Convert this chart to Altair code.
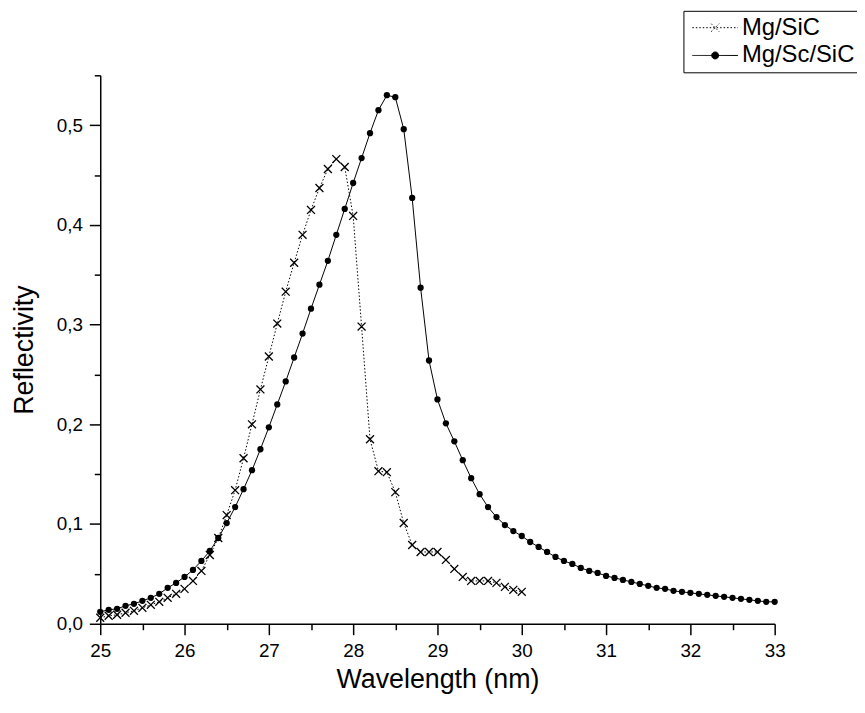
import altair as alt
import pandas as pd

FONT = "Liberation Sans"

# ---- data ----
mgsic_wl = [25.0, 25.1, 25.2, 25.3, 25.4, 25.5, 25.6, 25.7, 25.8, 25.9,
            26.0, 26.1, 26.2, 26.3, 26.4, 26.5, 26.6, 26.7, 26.8, 26.9,
            27.0, 27.1, 27.2, 27.3, 27.4, 27.5, 27.6, 27.7, 27.8, 27.9,
            28.0, 28.1, 28.2, 28.3, 28.4, 28.5, 28.6, 28.7, 28.8, 28.9,
            29.0, 29.1, 29.2, 29.3, 29.4, 29.5, 29.6, 29.7, 29.8, 29.9, 30.0]
mgsic_r = [0.006, 0.008, 0.009, 0.011, 0.013, 0.016, 0.019, 0.022, 0.026, 0.030,
           0.035, 0.043, 0.053, 0.069, 0.086, 0.109, 0.134, 0.166, 0.200, 0.235,
           0.268, 0.301, 0.333, 0.362, 0.390, 0.415, 0.437, 0.456, 0.466, 0.458,
           0.409, 0.298, 0.185, 0.153, 0.152, 0.132, 0.101, 0.079, 0.072, 0.072,
           0.072, 0.064, 0.055, 0.047, 0.043, 0.043, 0.043, 0.041, 0.037, 0.034, 0.032]

mgscsic_wl = [25.0, 25.1, 25.2, 25.3, 25.4, 25.5, 25.6, 25.7, 25.8, 25.9,
              26.0, 26.1, 26.2, 26.3, 26.4, 26.5, 26.6, 26.7, 26.8, 26.9,
              27.0, 27.1, 27.2, 27.3, 27.4, 27.5, 27.6, 27.7, 27.8, 27.9,
              28.0, 28.1, 28.2, 28.3, 28.4, 28.5, 28.6, 28.7, 28.8, 28.9,
              29.0, 29.1, 29.2, 29.3, 29.4, 29.5, 29.6, 29.7, 29.8, 29.9,
              30.0, 30.1, 30.2, 30.3, 30.4, 30.5, 30.6, 30.7, 30.8, 30.9,
              31.0, 31.1, 31.2, 31.3, 31.4, 31.5, 31.6, 31.7, 31.8, 31.9,
              32.0, 32.1, 32.2, 32.3, 32.4, 32.5, 32.6, 32.7, 32.8, 32.9, 33.0]
mgscsic_r = [0.012, 0.014, 0.015, 0.018, 0.020, 0.023, 0.026, 0.030, 0.036, 0.041,
             0.047, 0.054, 0.063, 0.073, 0.086, 0.101, 0.117, 0.135, 0.154, 0.175,
             0.197, 0.220, 0.243, 0.267, 0.291, 0.316, 0.340, 0.364, 0.390, 0.416,
             0.442, 0.467, 0.492, 0.515, 0.530, 0.528, 0.496, 0.427, 0.337, 0.264,
             0.225, 0.201, 0.183, 0.164, 0.146, 0.130, 0.117, 0.107, 0.099, 0.093,
             0.088, 0.082, 0.077, 0.072, 0.067, 0.063, 0.060, 0.056, 0.053, 0.051,
             0.048, 0.046, 0.044, 0.042, 0.040, 0.038, 0.036, 0.035, 0.033, 0.032,
             0.031, 0.030, 0.029, 0.028, 0.027, 0.026, 0.025, 0.024, 0.023, 0.022, 0.022]

series_names = ["Mg/SiC", "Mg/Sc/SiC"]
x_ticks = [25, 26, 27, 28, 29, 30, 31, 32, 33]
x_minor = [25.5, 26.5, 27.5, 28.5, 29.5, 30.5, 31.5, 32.5]
y_ticks = [0.0, 0.1, 0.2, 0.3, 0.4, 0.5]
y_minor = [0.05, 0.15, 0.25, 0.35, 0.45, 0.55]

df = pd.concat([
    pd.DataFrame({"wl": mgsic_wl, "r": mgsic_r, "series": series_names[0]}),
    pd.DataFrame({"wl": mgscsic_wl, "r": mgscsic_r, "series": series_names[1]}),
], ignore_index=True)

xscale = alt.Scale(domain=[25, 33], nice=False, zero=False)
yscale = alt.Scale(domain=[0, 0.55], nice=False)

XPATH = "M-1,-1L1,1M-1,1L1,-1"
# legend symbols: line + marker (unit half-size = 8 px with symbolSize 256)
LEG_X = "M-1,0L4.75,0M1.375,-0.5L2.375,0.5M1.375,0.5L2.375,-0.5"
LEG_O = ("M-1,0L4.75,0M1.435,0A0.44,0.44 0 1,0 2.315,0"
         "A0.44,0.44 0 1,0 1.435,0Z")

base = alt.Chart(df)
s0 = base.transform_filter(alt.datum.series == series_names[0])
s1 = base.transform_filter(alt.datum.series == series_names[1])

x_main = alt.X("wl:Q", scale=xscale,
               axis=alt.Axis(values=x_ticks, title="Wavelength (nm)", orient="bottom",
                             format="d", tickSize=11, labelPadding=7, titlePadding=6,
                             labelFontSize=19, titleFontSize=27, grid=False,
                             labelFlush=False))
y_main = alt.Y("r:Q", scale=yscale,
               axis=alt.Axis(values=y_ticks, title="Reflectivity", orient="left",
                             labelExpr="replace(format(datum.value, '.1f'), '.', ',')",
                             tickSize=11, labelPadding=7, titlePadding=18,
                             labelFontSize=19, titleFontSize=27, grid=False,
                             labelFlush=False))
x_minor_ax = alt.X("wl:Q", scale=xscale,
                   axis=alt.Axis(values=x_minor, labels=False, title=None, domain=False,
                                 tickSize=6, orient="bottom", grid=False))
y_minor_ax = alt.Y("r:Q", scale=yscale,
                   axis=alt.Axis(values=y_minor, labels=False, title=None, domain=False,
                                 tickSize=6, orient="left", grid=False))
x_none = alt.X("wl:Q", scale=xscale, axis=None)
y_none = alt.Y("r:Q", scale=yscale, axis=None)

line0 = s0.mark_line(color="black", strokeWidth=1, strokeDash=[1.5, 2]).encode(
    x=x_main, y=y_main)
line1 = s1.mark_line(color="black", strokeWidth=1).encode(
    x=x_minor_ax, y=y_minor_ax)

xs = s0.mark_point(shape=XPATH, size=64, filled=False, color="black",
                   strokeWidth=1.3, opacity=1).encode(x=x_none, y=y_none)
dots = s1.mark_circle(size=40, color="black", opacity=1).encode(x=x_none, y=y_none)


def legend_box():
    return alt.Legend(
        title=None, orient="none", legendX=588, legendY=-65,
        strokeColor="black", fillColor="white", padding=5,
        labelFont=FONT, labelFontSize=24, labelColor="black",
        symbolSize=256, symbolStrokeWidth=1, symbolStrokeColor="black",
        labelOffset=30, rowPadding=4)


# legend-only layer (no rows drawn; entries come from the explicit scale domains)
leg = base.transform_filter("false").mark_point(
    strokeWidth=1, opacity=1
).encode(
    x=x_none, y=y_none,
    shape=alt.Shape("series:N", scale=alt.Scale(domain=series_names, range=[LEG_X, LEG_O]),
                    legend=legend_box()),
    fill=alt.Fill("series:N", scale=alt.Scale(domain=series_names,
                                              range=["transparent", "black"]),
                  legend=legend_box()),
    stroke=alt.Stroke("series:N", scale=alt.Scale(domain=series_names,
                                                  range=["black", "black"]),
                      legend=legend_box()),
    strokeDash=alt.StrokeDash("series:N", scale=alt.Scale(domain=series_names,
                                                          range=[[1.5, 2], [1, 0]]),
                              legend=legend_box()),
)

chart = alt.layer(line0, line1, xs, dots, leg).resolve_axis(
    x="independent", y="independent"
).properties(
    width=680, height=553,
    autosize=alt.AutoSizeParams(type="none"),
    padding={"left": 93, "top": 65, "right": 83, "bottom": 72},
).configure_view(stroke=None).configure_axis(
    domainColor="black", domainWidth=1.5, tickColor="black", tickWidth=1.5,
    labelColor="black", titleColor="black", labelFont=FONT, titleFont=FONT,
    titleFontWeight="normal",
)

chart.save("out.html", embed_options={"renderer": "svg", "actions": False})
